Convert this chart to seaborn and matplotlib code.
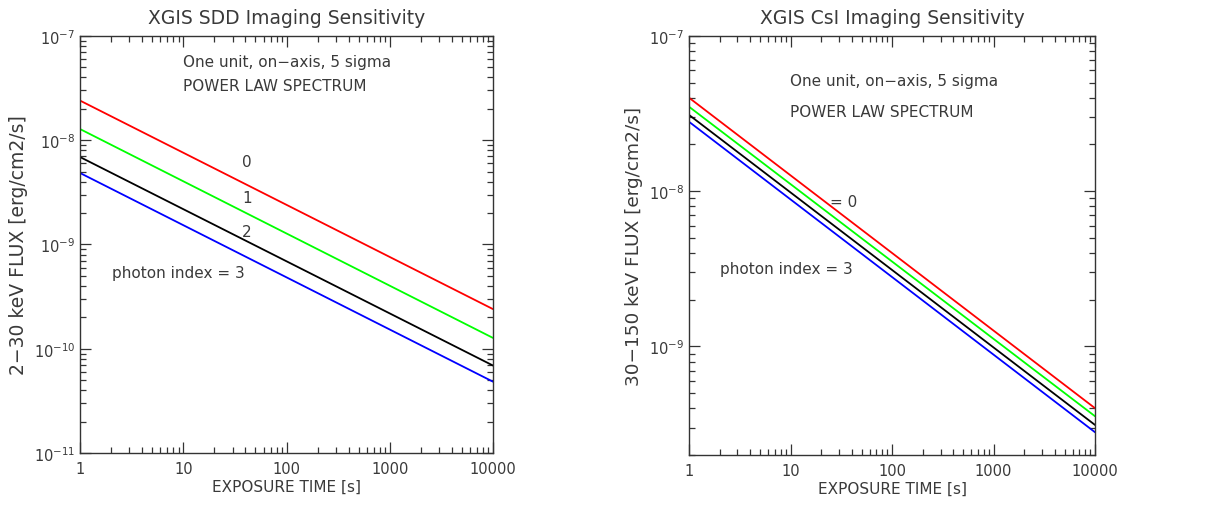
import numpy as np
import pandas as pd
import matplotlib
matplotlib.use("Agg")
import matplotlib.pyplot as plt
import seaborn as sns
from matplotlib.ticker import LogLocator, FixedLocator, FixedFormatter, NullFormatter, LogFormatterSciNotation

# ---- data ----
exposure = [1, 10000]
photon_index = [0, 1, 2, 3]
sdd_flux = {
    0: [2.4e-8, 2.4e-10],
    1: [1.28e-8, 1.27e-10],
    2: [6.9e-9, 6.9e-11],
    3: [4.85e-9, 4.83e-11],
}
csi_flux = {
    0: [4.0e-8, 4.0e-10],
    1: [3.5e-8, 3.55e-10],
    2: [3.1e-8, 3.12e-10],
    3: [2.8e-8, 2.8e-10],
}
x_ticks = [1, 10, 100, 1000, 10000]
x_ticklabels = ["1", "10", "100", "1000", "10000"]
sdd_yticks = [1e-11, 1e-10, 1e-9, 1e-8, 1e-7]
csi_yticks = [1e-9, 1e-8, 1e-7]
line_colors = ["#ff0000", "#00ff00", "#000000", "#0000ff"]

sns.set_style("ticks")
plt.rcParams["font.family"] = ["DejaVu Sans"]
plt.rcParams["mathtext.default"] = "regular"

TXT = "#3a3a3a"


def make_df(d):
    rows = []
    for idx in photon_index:
        for t, f in zip(exposure, d[idx]):
            rows.append({"time": t, "flux": f, "index": idx})
    return pd.DataFrame(rows)


fig = plt.figure(figsize=(12.11, 5.10), dpi=100)
ax1 = fig.add_axes([0.0661, 0.1098, 0.341, 0.8177])
ax2 = fig.add_axes([0.569, 0.1059, 0.3353, 0.8216])

panels = [
    (ax1, sdd_flux, "XGIS SDD Imaging Sensitivity", "2\u221230 keV FLUX [erg/cm2/s]", (1e-11, 1e-7), sdd_yticks, 13.5),
    (ax2, csi_flux, "XGIS CsI Imaging Sensitivity", "30\u2212150 keV FLUX [erg/cm2/s]", (2e-10, 1e-7), csi_yticks, 13.3),
]

for ax, data, title, ylabel, ylim, yt, ylfs in panels:
    df = make_df(data)
    sns.lineplot(data=df, x="time", y="flux", hue="index", palette=line_colors,
                 ax=ax, legend=False, linewidth=1.3)
    ax.set_xscale("log")
    ax.set_yscale("log")
    ax.set_xlim(1, 10000)
    ax.set_ylim(*ylim)
    ax.xaxis.set_major_locator(FixedLocator(x_ticks))
    ax.xaxis.set_major_formatter(FixedFormatter(x_ticklabels))
    ax.xaxis.set_minor_locator(LogLocator(base=10, subs=np.arange(2, 10)))
    ax.xaxis.set_minor_formatter(NullFormatter())
    ax.yaxis.set_major_locator(FixedLocator(yt))
    ax.yaxis.set_major_formatter(LogFormatterSciNotation())
    ax.yaxis.set_minor_locator(LogLocator(base=10, subs=np.arange(2, 10), numticks=20))
    ax.yaxis.set_minor_formatter(NullFormatter())
    ax.tick_params(which="both", direction="in", top=True, right=True,
                   color="#333333", width=0.9, labelcolor=TXT, labelsize=10.5)
    ax.tick_params(which="major", length=8)
    ax.tick_params(which="minor", length=4)
    ax.tick_params(axis="x", which="major", pad=6)
    for s in ax.spines.values():
        s.set_color("#333333")
        s.set_linewidth(1.0)
    ax.set_title(title, fontsize=13.5, color=TXT, pad=9)
    ax.set_xlabel("EXPOSURE TIME [s]", fontsize=11, color=TXT, labelpad=2)
    ax.set_ylabel(ylabel, fontsize=ylfs, color=TXT, labelpad=4)

FS = 11
ax1.text(0.249, 0.938, "One unit, on\u2212axis, 5 sigma", transform=ax1.transAxes,
         fontsize=FS, color=TXT, va="center", ha="left")
ax1.text(0.249, 0.882, "POWER LAW SPECTRUM", transform=ax1.transAxes,
         fontsize=FS, color=TXT, va="center", ha="left")
ax1.text(0.404, 0.698, "0", transform=ax1.transAxes, fontsize=FS, color=TXT, va="center", ha="center")
ax1.text(0.404, 0.612, "1", transform=ax1.transAxes, fontsize=FS, color=TXT, va="center", ha="center")
ax1.text(0.404, 0.530, "2", transform=ax1.transAxes, fontsize=FS, color=TXT, va="center", ha="center")
ax1.text(0.077, 0.434, "photon index = 3", transform=ax1.transAxes,
         fontsize=FS, color=TXT, va="center", ha="left")

ax2.text(0.249, 0.893, "One unit, on\u2212axis, 5 sigma", transform=ax2.transAxes,
         fontsize=FS, color=TXT, va="center", ha="left")
ax2.text(0.249, 0.819, "POWER LAW SPECTRUM", transform=ax2.transAxes,
         fontsize=FS, color=TXT, va="center", ha="left")
ax2.text(0.347, 0.606, "= 0", transform=ax2.transAxes, fontsize=FS, color=TXT,
         va="center", ha="left")
ax2.text(0.076, 0.446, "photon index = 3", transform=ax2.transAxes,
         fontsize=FS, color=TXT, va="center", ha="left")

fig.savefig("out.png", dpi=100, facecolor="white")
